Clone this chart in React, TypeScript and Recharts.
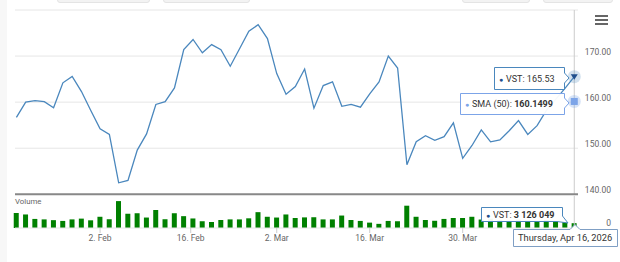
import React from "react"
import {
  ComposedChart,
  Line,
  Bar,
  XAxis,
  YAxis,
  CartesianGrid,
  ReferenceLine,
} from "recharts"

// trading days, Jan 20 – Apr 16, 2026
const dates = [
  "Jan 20", "Jan 21", "Jan 22", "Jan 23", "Jan 26", "Jan 27", "Jan 28", "Jan 29", "Jan 30",
  "Feb 2", "Feb 3", "Feb 4", "Feb 5", "Feb 6",
  "Feb 9", "Feb 10", "Feb 11", "Feb 12", "Feb 13",
  "Feb 17", "Feb 18", "Feb 19", "Feb 20",
  "Feb 23", "Feb 24", "Feb 25", "Feb 26", "Feb 27",
  "Mar 2", "Mar 3", "Mar 4", "Mar 5", "Mar 6",
  "Mar 9", "Mar 10", "Mar 11", "Mar 12", "Mar 13",
  "Mar 16", "Mar 17", "Mar 18", "Mar 19", "Mar 20",
  "Mar 23", "Mar 24", "Mar 25", "Mar 26", "Mar 27",
  "Mar 30", "Mar 31", "Apr 1", "Apr 2",
  "Apr 6", "Apr 7", "Apr 8", "Apr 9", "Apr 10",
  "Apr 13", "Apr 14", "Apr 15", "Apr 16",
]

const prices = [
  156.7, 160.0, 160.35, 160.1, 158.8, 164.2, 165.6, 162.3, 158.2, 154.2,
  153.0, 142.5, 143.0, 149.6, 153.1, 159.5, 160.1, 163.1, 171.4, 173.6,
  170.7, 172.5, 171.4, 167.8, 171.6, 175.4, 176.8, 173.8, 166.2, 161.7,
  163.4, 167.2, 158.7, 163.6, 164.4, 159.1, 159.5, 158.9, 161.8, 164.4,
  170.0, 167.4, 146.4, 151.4, 152.7, 151.7, 152.5, 155.5, 147.8, 150.6,
  154.0, 151.4, 151.8, 153.8, 156.0, 153.0, 154.9, 158.2, 160.6, 163.0,
  165.53,
]

const volumes = [
  9.8e6, 8.8e6, 5.9e6, 5.6e6, 5.1e6, 4.6e6, 5.6e6, 6.1e6, 5.0e6, 7.3e6,
  5.7e6, 17.5e6, 9.2e6, 9.6e6, 6.8e6, 11.7e6, 5.7e6, 9.6e6, 7.7e6, 6.2e6,
  4.4e6, 3.9e6, 5.2e6, 5.6e6, 5.6e6, 6.3e6, 10.3e6, 7.3e6, 6.8e6, 8.8e6,
  6.5e6, 6.9e6, 7.0e6, 5.6e6, 5.6e6, 8.1e6, 5.2e6, 4.6e6, 3.5e6, 2.7e6,
  4.6e6, 4.4e6, 14.5e6, 7.3e6, 5.2e6, 4.7e6, 5.9e6, 6.5e6, 6.5e6, 7.3e6,
  5.5e6, 6.0e6, 5.2e6, 4.8e6, 5.5e6, 5.0e6, 4.6e6, 5.3e6, 4.5e6, 3.9e6,
  3126049,
]

const smaLast = 160.1499

const priceTicks = [140, 150, 160, 170, 180]
const tickIndex = [9, 18.75, 28, 38, 48]
const tickLabels = ["2. Feb", "16. Feb", "2. Mar", "16. Mar", "30. Mar"]

const last = dates.length - 1
const data = dates.map((d, i) => ({
  idx: i,
  date: d,
  price: prices[i],
  volume: volumes[i],
  sma: i === last ? smaLast : null,
}))

const LINE = "#4a87bd"
const SMA = "#7ca4e8"
const X_DOMAIN: [number, number] = [-0.15, 60.4]

const PriceTick = ({ y, payload }: any) =>
  payload.value === 180 ? (
    <g />
  ) : (
    <text x={611} y={y - 4.5} textAnchor="end" dominantBaseline="central" fontSize={8.5} fill="#666">
      {payload.value.toFixed(2)}
    </text>
  )

const VolTick = ({ y, payload }: any) => (
  <text x={611} y={y - 5} textAnchor="end" dominantBaseline="central" fontSize={8.5} fill="#666">
    {payload.value}
  </text>
)

const priceDot = (p: any) => {
  if (p.index !== last) return <g key={p.index} />
  const { cx, cy } = p
  return (
    <g key={p.index}>
      <circle cx={cx} cy={cy} r={6.5} fill={LINE} opacity={0.25} />
      <path d={`M${cx - 3.5},${cy - 2.5} L${cx + 3.5},${cy - 2.5} L${cx},${cy + 3} Z`} fill="#1f4e8c" />
    </g>
  )
}

const smaDot = (p: any) => {
  if (p.index !== last || p.cy == null) return <g key={p.index} />
  const { cx, cy } = p
  return (
    <g key={p.index}>
      <circle cx={cx} cy={cy} r={6.5} fill={SMA} opacity={0.3} />
      <rect x={cx - 3.5} y={cy - 3.5} width={7} height={7} fill={SMA} />
    </g>
  )
}

const boxStyle: React.CSSProperties = {
  position: "absolute",
  top: -8,
  height: 9,
  background: "#f3f3f3",
  border: "1px solid #e4e4e4",
  borderRadius: 3,
}

export default function App() {
  return (
    <div
      style={{
        position: "absolute",
        left: 0,
        top: 0,
        width: 620,
        height: 262,
        background: "#fff",
        overflow: "hidden",
        fontFamily: "Roboto, sans-serif",
      }}
    >
      <div style={{ position: "absolute", left: 0, top: 0, width: 7, height: 262, background: "#f7f7f7" }} />
      <div style={{ ...boxStyle, left: 57, width: 91 }} />
      <div style={{ ...boxStyle, left: 163, width: 85 }} />
      <div style={{ ...boxStyle, left: 462, width: 66 }} />
      <div style={{ ...boxStyle, left: 543, width: 68 }} />

      {/* price pane */}
      <div style={{ position: "absolute", left: 0, top: 0 }}>
        <ComposedChart width={620} height={262} data={data} margin={{ top: 10, right: 0, left: 15, bottom: 67.7 }}>
          <CartesianGrid vertical={false} stroke="#e6e6e6" />
          <XAxis dataKey="idx" type="number" domain={X_DOMAIN} hide />
          <YAxis
            orientation="right"
            width={42}
            domain={[140, 180]}
            ticks={priceTicks}
            tick={PriceTick}
            tickLine={false}
            axisLine={false}
          />
          <ReferenceLine x={last} stroke="#cccccc" />
          <ReferenceLine y={140} stroke="#888888" strokeWidth={2} />
          <Line
            dataKey="price"
            stroke={LINE}
            strokeWidth={1.3}
            dot={priceDot}
            activeDot={false}
            isAnimationActive={false}
          />
          <Line dataKey="sma" stroke={SMA} dot={smaDot} activeDot={false} isAnimationActive={false} />
        </ComposedChart>
      </div>

      {/* volume pane */}
      <div style={{ position: "absolute", left: 0, top: 0 }}>
        <ComposedChart width={620} height={262} data={data} margin={{ top: 195.7, right: 0, left: 15, bottom: 0 }}>
          <XAxis
            dataKey="idx"
            type="number"
            domain={X_DOMAIN}
            ticks={tickIndex}
            interval={0}
            tickFormatter={(v) => tickLabels[tickIndex.indexOf(v)] ?? ""}
            height={34}
            tickSize={5}
            tickLine={{ stroke: "#cccccc" }}
            axisLine={{ stroke: "#e6e6e6" }}
            tick={{ fontSize: 8.5, fill: "#666" }}
          />
          <YAxis
            orientation="right"
            width={42}
            domain={[0, 21000000]}
            ticks={[0]}
            tick={VolTick}
            tickLine={false}
            axisLine={false}
          />
          <ReferenceLine x={last} stroke="#cccccc" />
          <Bar dataKey="volume" fill="#008000" barSize={5} isAnimationActive={false} />
        </ComposedChart>
      </div>

      <div style={{ position: "absolute", left: 15, top: 197, fontSize: 7.8, color: "#666" }}>Volume</div>

      {/* menu button */}
      <svg style={{ position: "absolute", left: 0, top: 0 }} width={620} height={262} pointerEvents="none">
        <g stroke="#555" strokeWidth={1.8}>
          <line x1={595} x2={608} y1={16} y2={16} />
          <line x1={595} x2={608} y1={20} y2={20} />
          <line x1={595} x2={608} y1={24} y2={24} />
        </g>

        {/* tooltips */}
        <path
          d="M494.5,67.5 H564.5 V73 L569,78 L564.5,83 V89.5 H494.5 Z"
          fill="rgba(255,255,255,0.95)"
          stroke={LINE}
        />
        <text x={499} y={81.5} fontSize={7} fill="#1f4e8c">●</text>
        <text x={506} y={81.5} fontSize={9} fill="#333">VST: 165.53</text>

        <path
          d="M460.5,93.5 H564.5 V98 L569,103 L564.5,108 V114.5 H460.5 Z"
          fill="rgba(255,255,255,0.95)"
          stroke={SMA}
        />
        <text x={465} y={107} fontSize={7} fill={SMA}>●</text>
        <text x={472} y={107} fontSize={9} fill="#333">
          SMA (50): <tspan fontWeight="bold">160.1499</tspan>
        </text>

        <path
          d="M481.5,207.5 H562.5 V216 L568,223 L557,221.5 H481.5 Z"
          fill="rgba(255,255,255,0.95)"
          stroke={LINE}
        />
        <text x={486} y={217.5} fontSize={7} fill="#1f4e8c">●</text>
        <text x={493} y={217.5} fontSize={9} fill="#333">
          VST: <tspan fontWeight="bold">3 126 049</tspan>
        </text>

        <path
          d="M513.5,229.5 H570 L575,224.5 L580,229.5 H617.5 V246.5 H513.5 Z"
          fill="rgba(255,255,255,0.95)"
          stroke="#7f9fc4"
        />
        <text x={518} y={241} fontSize={9.3} fill="#333">Thursday, Apr 16, 2026</text>
      </svg>
    </div>
  )
}
